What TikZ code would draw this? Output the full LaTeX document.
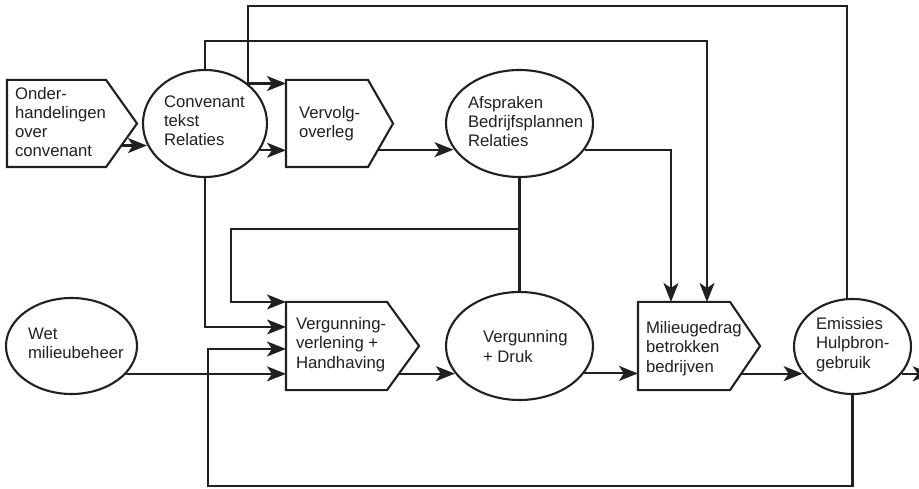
\documentclass[tikz,border=0pt]{standalone}
\usepackage{fontspec}
\setmainfont{Liberation Sans}
\usetikzlibrary{shapes.geometric,arrows.meta,calc}
\definecolor{ink}{HTML}{231F20}
\begin{document}
\begin{tikzpicture}[x=1pt,y=-1pt,
  line width=2.1pt, draw=ink,
  ell/.style={draw=ink, ellipse, inner sep=0pt},
  rectn/.style={inner sep=0pt, draw=none},
  pent/.style={draw=ink, line join=miter},
  txt/.style={anchor=base west, align=left, inner sep=0pt, text=ink, font=\fontsize{16.7}{19.3}\selectfont},
  arr/.style={draw=ink, -{Stealth[length=19pt,width=15pt,inset=5pt]}},
  link/.style={draw=ink}]
\useasboundingbox (0,0) rectangle (919,489);
\clip (0,0) rectangle (919,489);

% pentagon (signal) boxes
\node[rectn, minimum width=97pt, minimum height=85pt] (onder) at (56.5,123.5) {};
\coordinate (onderTip) at ($(onder.east)+(31,0)$);
\node[rectn, minimum width=80pt, minimum height=85pt] (verv) at (327,123.5) {};
\coordinate (vervTip) at ($(verv.east)+(25,0)$);
\node[rectn, minimum width=99pt, minimum height=86pt] (vergv) at (336.5,346) {};
\coordinate (vergvTip) at ($(vergv.east)+(32,0)$);
\node[rectn, minimum width=90pt, minimum height=86pt] (milieu) at (684,346) {};
\coordinate (milieuTip) at ($(milieu.east)+(30,0)$);

\foreach \n in {onder,verv,vergv,milieu}{
  \draw[pent] (\n.north west) -- (\n.north east) -- (\n Tip) -- (\n.south east) -- (\n.south west) -- cycle;
}

% ellipses
\node[ell, minimum width=124pt, minimum height=107pt] (conv) at (205,123.5) {};
\node[ell, minimum width=147pt, minimum height=107pt] (afsp) at (519.5,123.5) {};
\node[ell, minimum width=131pt, minimum height=96pt] (wet) at (71.5,346) {};
\node[ell, minimum width=147pt, minimum height=108pt] (druk) at (519.5,346) {};
\node[ell, minimum width=117pt, minimum height=95pt] (emis) at (852.5,346.5) {};

% texts (anchored at the baseline of the last line)
\node[txt] (tOnder) at (14,157) {Onder-\\handelingen\\over\\convenant};
\node[txt] (tConv) at (163,146) {Convenant\\tekst\\Relaties};
\node[txt] (tVerv) at (298,138) {Vervolg-\\overleg};
\node[txt] (tAfsp) at (467,147) {Afspraken\\Bedrijfsplannen\\Relaties};
\node[txt] (tWet) at (27,359) {Wet\\milieubeheer};
\node[txt] (tVergv) at (295,368) {Vergunning-\\verlening +\\Handhaving};
\node[txt] (tDruk) at (482,362) {Vergunning\\+ Druk};
\node[txt] (tMilieu) at (645,372) {Milieugedrag\\betrokken\\bedrijven};
\node[txt] (tEmis) at (815,368) {Emissies\\Hulpbron-\\gebruik};

% helper coordinates
\coordinate (s1) at ($(onder.south east)!0.494!(onderTip)$);
\coordinate (s2) at ($(verv.south east)!0.4!(vervTip)$);
\coordinate (s3) at ($(vergv.south east)!0.372!(vergvTip)$);
\coordinate (s4) at ($(milieu.south east)!0.372!(milieuTip)$);
\coordinate (topA) at (0,6);
\coordinate (topB) at (707,41);
\coordinate (j1) at ($(afsp.south)!0.452!(druk.north)$);
\coordinate (c231) at (231,0);
\coordinate (b1) at (208,486);

% connectors
\draw[arr] (s1) -- (s1 -| conv.200.7);
\draw[arr] (conv.43.4) -- (conv.43.4 -| verv.west);
\draw[arr] (conv.334.9) -- (conv.334.9 -| verv.west);
\draw[arr] (s2) -- (s2 -| afsp.201.5);
\draw[link] (emis.96.6) -- (emis.96.6 |- topA) -| (conv.43.4);
\draw[arr] (conv.north) |- (topB) -- (topB |- milieu.north);
\draw[arr] (afsp.338.5) -| ($(milieu.north west)+(33,0)$);
\draw[link] (afsp.south) -- (druk.north);
\draw[arr] (j1) -- (j1 -| c231) |- (vergv.north west);
\draw[arr] (conv.south) |- ($(vergv.north west)+(0,25)$);
\draw[arr] (emis.south) |- (b1) |- ($(vergv.north west)+(0,47)$);
\draw[arr] (wet.333.5) -- (wet.333.5 -| vergv.west);
\draw[arr] (s3) -- (s3 -| druk.203);
\draw[arr] (druk.337) -- (druk.337 -| milieu.west);
\draw[arr] (s4) -- (s4 -| emis.208.6);
\draw[arr] (emis.331.4) -- ++(30,0);
\end{tikzpicture}
\end{document}
